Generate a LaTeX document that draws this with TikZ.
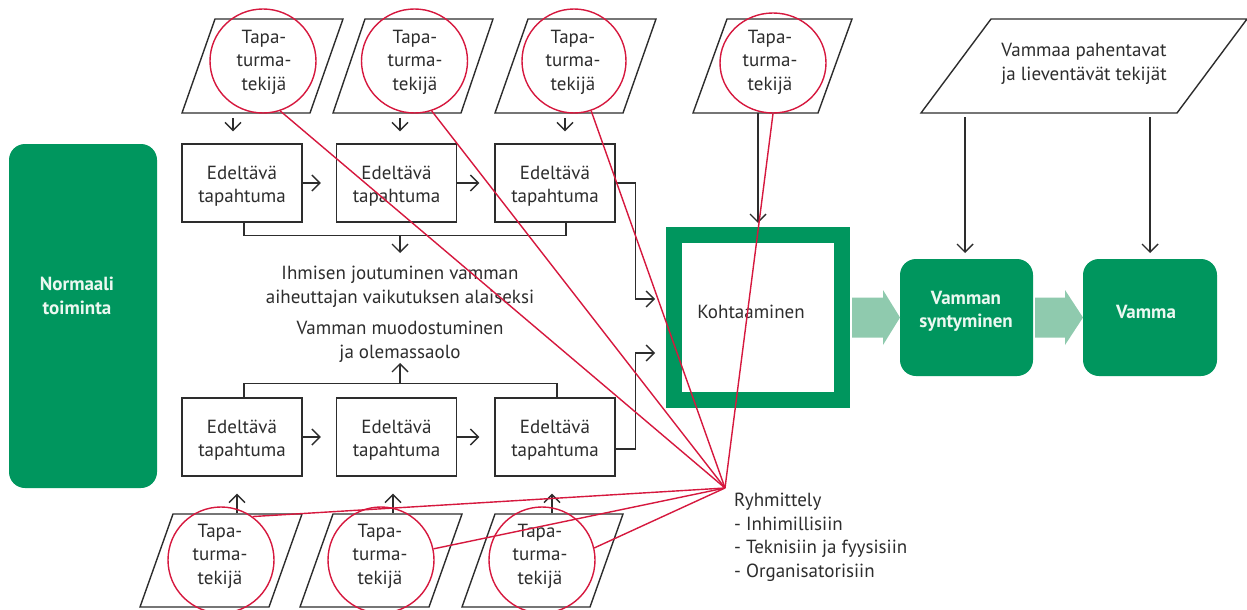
\documentclass[tikz,border=0pt]{standalone}
\usepackage{fontspec}
\setmainfont{PT Sans}
\usetikzlibrary{arrows.meta,calc,shapes.geometric}
\definecolor{ink}{RGB}{45,45,45}
\definecolor{dgreen}{RGB}{0,150,94}
\definecolor{lgreen}{RGB}{143,202,174}
\definecolor{crim}{RGB}{214,24,62}
\definecolor{wtxt}{RGB}{236,248,241}

% slanted input box: name, bottom-left x, bottom y, width, skew, height
\newcommand\slantbox[6]{%
  \draw[line] (#2,#3) coordinate (#1) -- ++(#4,0) -- ++(#5,-#6) -- ++(-#4,0) -- cycle;}

% wide light-green arrow between two nodes: from, to, head length
\newcommand\fatarrow[3]{%
  \fill[lgreen] let \p1=(#1.east), \p2=(#2.west) in
    (\x1+2pt,\y1+20pt) -- (\x2-#3pt,\y1+20pt) -- (\x2-#3pt,\y1+27.5pt) --
    (\x2,\y1) -- (\x2-#3pt,\y1-27.5pt) -- (\x2-#3pt,\y1-20pt) --
    (\x1+2pt,\y1-20pt) -- cycle;}

% two-line event label, set a little low in its box
\newcommand\evtext{\rule{0pt}{20pt}Edeltävä\\tapahtuma}

\begin{document}
\begin{tikzpicture}[x=1pt,y=-1pt,
  font=\fontsize{19}{23.5}\selectfont,
  every node/.style={text=ink},
  line/.style={draw=ink,line width=1.4pt},
  arr/.style={line,-{Straight Barb[length=8pt,width=16pt]}},
  evbox/.style={line,fill=white,minimum width=120pt,minimum height=78pt,
                align=center,inner sep=0pt},
  gbox/.style={fill=dgreen,rounded corners=16pt,inner sep=0pt,outer sep=0pt},
  wtext/.style={text=wtxt,font=\fontsize{19}{23.5}\selectfont\bfseries,align=center},
  ring/.style={ellipse,draw=crim,line width=1.4pt,inner sep=0pt},
  plain/.style={align=center,inner sep=0pt},
  redl/.style={draw=crim,line width=1.4pt}]

\fill[white] (0,0) rectangle (1247,610);
\useasboundingbox (0,0) rectangle (1247,610);

% input boxes, upper row
\slantbox{p1}{182}{113}{128}{33}{94}
\slantbox{p2}{333}{113}{128}{32}{94}
\slantbox{p3}{495}{113}{128}{33}{94}
\slantbox{p4}{693}{113}{125}{34}{94}
\slantbox{p5}{921}{113}{256}{70}{94}
% input boxes, lower row
\slantbox{p6}{140}{607}{129}{33}{93}
\slantbox{p7}{300}{607}{129}{33}{93}
\slantbox{p8}{462}{607}{128}{33}{93}

% green blocks
\node[gbox,minimum width=148pt,minimum height=344pt] (norm) at (83,316) {};
\node[wtext] (normt) at (77,296) {Normaali\\toiminta};

\node[draw=dgreen,line width=16pt,minimum width=168pt,minimum height=165pt,
      inner sep=0pt] (k) at (758,317.5) {};
\node[plain] (kt) at (751,312) {Kohtaaminen};

\node[gbox,minimum width=133pt,minimum height=117pt] (s) at (966.5,317.5) {};
\node[wtext] (st) at (966,311.5) {Vamman\\syntyminen};
\node[gbox,minimum width=134pt,minimum height=117pt] (v) at (1150,317.5) {};
\node[wtext] (vt) at (1146,312) {Vamma};

\fatarrow{k}{s}{17}
\fatarrow{s}{v}{18}

% preceding events
\node[evbox] (e1) at (242,183) {\evtext};
\node[evbox] (e2) at (396.5,183) {\evtext};
\node[evbox] (e3) at (555,183) {\evtext};
\node[evbox] (e4) at (242,437) {\evtext};
\node[evbox] (e5) at (396.5,437) {\evtext};
\node[evbox] (e6) at (555,437) {\evtext};

\draw[arr,shorten >=15pt] (e1.east) -- (e2.west);
\draw[arr,shorten >=15pt] (e2.east) -- (e3.west);
\draw[arr,shorten >=15pt] (e4.east) -- (e5.west);
\draw[arr,shorten >=15pt] (e5.east) -- (e6.west);

% middle captions
\node[plain] (ih) at (400,287) {Ihmisen joutuminen vamman\\aiheuttajan vaikutuksen alaiseksi};
\node[plain] (vm) at (400,342) {Vamman muodostuminen\\ja olemassaolo};

\draw[line] ([xshift=2pt]e1.south) -- ++(0,13) -| ([xshift=11pt]e3.south);
\coordinate (bt) at (400,235.7);
\coordinate (btt) at (400,253);
\draw[arr] (bt) -- (btt);

\draw[line] ([xshift=2pt]e4.north) -- ++(0,-14) -| ([xshift=2pt]e6.north);
\coordinate (bb) at (400,383.3);
\coordinate (bbt) at (400,363);
\draw[arr] (bb) -- (bbt);

% feeds into the encounter
\draw[arr,shorten >=11pt] (e3.east) -- ++(20,0) |- ([yshift=18.5pt]k.west);
\draw[arr,shorten >=11pt] ([yshift=-12pt]e6.east) -- ++(20,0) |- ([yshift=-35.5pt]k.west);

% arrows from the input boxes
\coordinate (d1) at (233,113);
\coordinate (d2) at (400,113);
\coordinate (d3) at (565,113);
\draw[arr,shorten <=5pt,shorten >=12pt] (d1) -- (d1 |- e1.north);
\draw[arr,shorten <=5pt,shorten >=12pt] (d2) -- (d2 |- e2.north);
\draw[arr,shorten <=5pt,shorten >=12pt] (d3) -- (d3 |- e3.north);
\coordinate (d4) at (758,113);
\draw[arr,shorten >=4pt] (d4) -- (k.north);

\coordinate (u1) at (237,514);
\coordinate (u2) at (393,514);
\coordinate (u3) at (552,514);
\draw[arr,shorten <=1pt,shorten >=17pt] (u1) -- (u1 |- e4.south);
\draw[arr,shorten <=1pt,shorten >=17pt] (u2) -- (u2 |- e5.south);
\draw[arr,shorten <=1pt,shorten >=17pt] (u3) -- (u3 |- e6.south);

\node[plain] (vp) at (1084,64) {Vammaa pahentavat\\ja lieventävät tekijät};
\coordinate (f1) at (965,113);
\coordinate (f2) at (1150,113);
\draw[arr,shorten <=4pt,shorten >=6pt] (f1) -- (f1 |- s.north);
\draw[arr,shorten <=4pt,shorten >=6pt] (f2) -- (f2 |- v.north);

% accident factor labels
\node[plain] (t1) at (264,62) {Tapa-\\turma-\\tekijä};
\node[plain] (t2) at (415,62) {Tapa-\\turma-\\tekijä};
\node[plain] (t3) at (573,62) {Tapa-\\turma-\\tekijä};
\node[plain] (t4) at (770,62) {Tapa-\\turma-\\tekijä};
\node[plain] (t5) at (220,556) {Tapa-\\turma-\\tekijä};
\node[plain] (t6) at (380,556) {Tapa-\\turma-\\tekijä};
\node[plain] (t7) at (540,556) {Tapa-\\turma-\\tekijä};

% red rings
\node[ring,minimum width=106pt,minimum height=104pt] (c1) at (263,61) {};
\node[ring,minimum width=106pt,minimum height=104pt] (c2) at (414.5,61) {};
\node[ring,minimum width=104pt,minimum height=104pt] (c3) at (574,61) {};
\node[ring,minimum width=106pt,minimum height=100pt] (c4) at (773,63) {};
\node[ring,minimum width=106pt,minimum height=106pt] (c5) at (221,560) {};
\node[ring,minimum width=106pt,minimum height=106pt] (c6) at (381,560) {};
\node[ring,minimum width=106pt,minimum height=106pt] (c7) at (542,560) {};

% grouping
\coordinate (ry) at (725,488);
\node[plain,align=left,anchor=north west] (ryt) at (734,493)
  {Ryhmittely\\- Inhimillisiin\\- Teknisiin ja fyysisiin\\- Organisatorisiin};

\draw[redl] (c1.-71) -- (ry);
\draw[redl] (c2.-71) -- (ry);
\draw[redl] (c3.-71) -- (ry);
\draw[redl] (c4.-90) -- (ry);
\draw[redl] (c5.54) -- (ry);
\draw[redl] (c6.12) -- (ry);
\draw[redl] (c7.13) -- (ry);
\end{tikzpicture}
\end{document}
